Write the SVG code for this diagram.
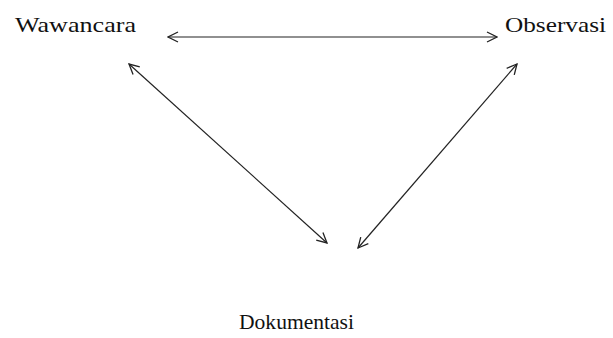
<svg xmlns="http://www.w3.org/2000/svg" width="613" height="338" viewBox="0 0 613 338">
<style>
text{font-family:"Liberation Serif","Times New Roman",serif;fill:#111;font-size:22px}
.c{stroke:#222;stroke-width:1.2;fill:none}
</style>
<defs>
<marker id="ah" viewBox="0 0 12 12" refX="11" refY="6" markerWidth="12" markerHeight="12" markerUnits="userSpaceOnUse" orient="auto-start-reverse">
<polyline points="1,1 11,6 1,11" fill="none" stroke="#222" stroke-width="1.3"/>
</marker>
</defs>
<rect width="613" height="338" fill="#fff"/>
<g id="wawancara"><text x="15" y="32" textLength="121" lengthAdjust="spacingAndGlyphs">Wawancara</text></g>
<g id="observasi"><text x="505" y="32" textLength="101" lengthAdjust="spacingAndGlyphs">Observasi</text></g>
<g id="dokumentasi"><text x="239" y="329" textLength="115" lengthAdjust="spacingAndGlyphs">Dokumentasi</text></g>
<g id="connectors">
<line class="c" x1="168" y1="37" x2="497" y2="37" marker-start="url(#ah)" marker-end="url(#ah)"/>
<line class="c" x1="129" y1="64" x2="327" y2="243" marker-start="url(#ah)" marker-end="url(#ah)"/>
<line class="c" x1="517" y1="64" x2="358" y2="248" marker-start="url(#ah)" marker-end="url(#ah)"/>
</g>
</svg>
